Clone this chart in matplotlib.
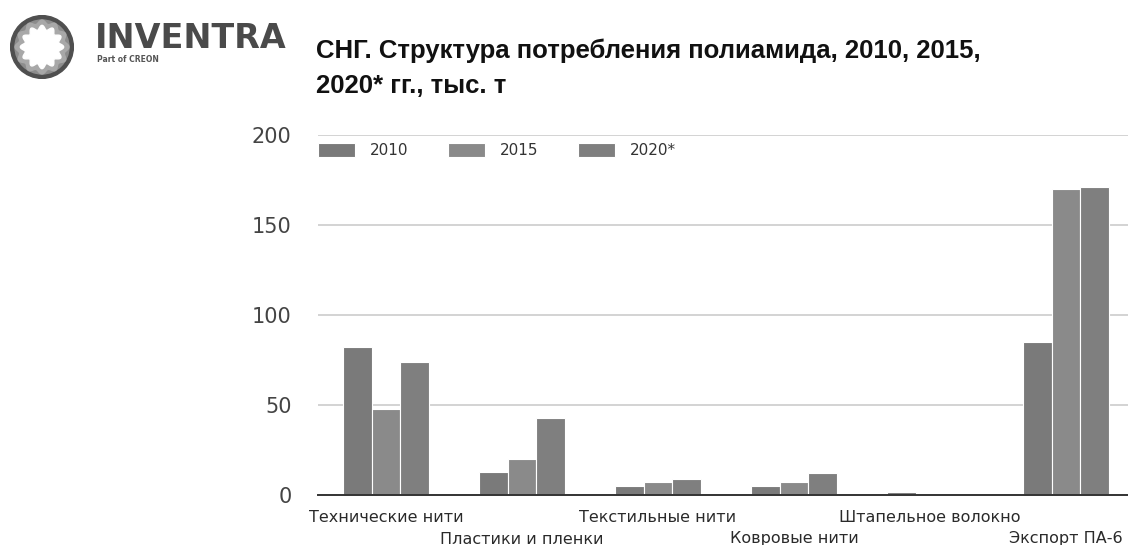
import numpy as np
import matplotlib
matplotlib.use("Agg")
import matplotlib.pyplot as plt
from matplotlib.patches import Circle, Polygon

# Consumption of polyamide in the CIS, thousand tonnes
categories = ["Технические нити", "Пластики и пленки", "Текстильные нити",
              "Ковровые нити", "Штапельное волокно", "Экспорт ПА-6"]
years = ["2010", "2015", "2020*"]
v2010 = [82, 13, 5, 5, 1.5, 85]
v2015 = [48, 20, 7, 7, 0, 170]
v2020 = [74, 43, 9, 12, 0, 171]
yticks = [0, 50, 100, 150, 200]

colors = ["#7a7a7a", "#8a8a8a", "#7f7f7f"]

W, H = 1128, 545
fig = plt.figure(figsize=(W / 100, H / 100), dpi=100)

# plot area in pixel terms
left, right, top, bottom = 318, 1134, 135, 495
ax = fig.add_axes([left / W, 1 - bottom / H, (right - left) / W, (bottom - top) / H])

x = np.arange(len(categories))
bw = 0.21
for k, (vals, col) in enumerate(zip([v2010, v2015, v2020], colors)):
    bars = ax.bar(x + (k - 1) * bw, vals, width=bw, color=col, edgecolor="white",
                  linewidth=0.8, label=years[k], zorder=2)
    for b, v in zip(bars, vals):
        if v == 0:
            b.set_edgecolor("none")

ax.set_xlim(-0.5, len(categories) - 0.5)
ax.set_ylim(0, 200)
ax.set_yticks(yticks)
ax.set_yticklabels([str(t) for t in yticks], fontsize=15, color="#444444")
ax.tick_params(axis="y", length=0, pad=19)
ax.set_xticks([])
ax.yaxis.grid(True, color="#cccccc", linewidth=1.2, zorder=0)
ax.set_axisbelow(True)
for s in ["top", "right", "left"]:
    ax.spines[s].set_visible(False)
ax.spines["bottom"].set_color("#333333")
ax.spines["bottom"].set_linewidth(1.4)
ax.spines["bottom"].set_zorder(3)

# category labels in two staggered rows
for i, name in enumerate(categories):
    off = 22 if i % 2 == 0 else 44
    ax.annotate(name, xy=(i, 0), xycoords=("data", "axes fraction"),
                xytext=(0, -off), textcoords="offset pixels",
                ha="center", va="center", fontsize=11.5, color="#2a2a2a")

leg = ax.legend(loc="upper left", bbox_to_anchor=(0, 1 - 8 / 360), ncol=3,
                frameon=False, borderaxespad=0, borderpad=0,
                handlelength=2.4, handleheight=1.0, handletextpad=1.0,
                columnspacing=2.6, fontsize=11)
for t in leg.get_texts():
    t.set_color("#333333")

# title
tfont = dict(family="Liberation Sans", weight="bold", fontsize=18.5, color="#111111")
fig.text(316 / W, 1 - 58 / H, "СНГ. Структура потребления полиамида, 2010, 2015,",
         va="baseline", ha="left", **tfont)
fig.text(316 / W, 1 - 93 / H, "2020* гг., тыс. т", va="baseline", ha="left", **tfont)

# logo: ring with a gear inside
lax = fig.add_axes([10 / W, 1 - 79 / H, 64 / W, 64 / H])
lax.set_xlim(-1.02, 1.02)
lax.set_ylim(-1.02, 1.02)
lax.set_aspect("equal")
lax.axis("off")
lax.add_patch(Circle((0, 0), 1.0, color="#4f4f4f"))
lax.add_patch(Circle((0, 0), 0.86, color="#8c8c8c"))
th = np.linspace(0, 2 * np.pi, 400)
r_gear = 0.80 + 0.06 * np.cos(12 * th)
lax.add_patch(Polygon(np.c_[r_gear * np.cos(th), r_gear * np.sin(th)], color="#a8a8a8"))
r_in = 0.62 + 0.07 * np.cos(12 * th)
lax.add_patch(Polygon(np.c_[r_in * np.cos(th), r_in * np.sin(th)], color="white"))

fig.text(95 / W, 1 - 48 / H, "INVENTRA", family="DejaVu Sans", weight="bold",
         fontsize=24, color="#4a4a4a", va="baseline", ha="left")
fig.text(97 / W, 1 - 62 / H, "Part of CREON", family="DejaVu Sans", weight="bold",
         fontsize=5.5, color="#555555", va="baseline", ha="left")

fig.savefig("out.png", dpi=100)
